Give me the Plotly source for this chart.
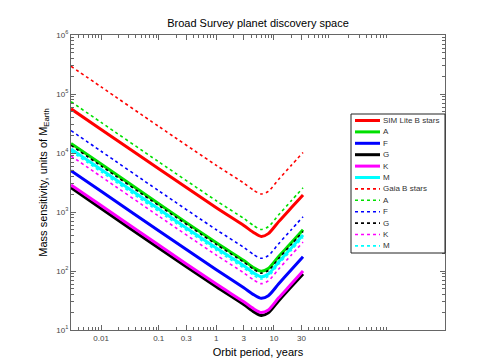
import plotly.graph_objects as go

# orbit period, years
period = [0.003, 0.01, 0.1, 1, 3, 4.5, 6, 8, 12, 20, 32]

# mass sensitivity, Earth masses
sim_b = [56000, 25000, 5400, 1180, 590, 445, 385, 430, 680, 1180, 1950]
sim_a = [14500, 6500, 1380, 300, 150, 113, 99, 110, 174, 300, 500]
sim_f = [5000, 2240, 480, 105, 52, 39.5, 34.5, 38, 60, 105, 174]
sim_g = [2570, 1150, 245, 54, 27, 20.3, 17.6, 19.5, 31, 54, 89]
sim_k = [2880, 1290, 275, 60, 30, 22.7, 19.8, 21.9, 34.7, 60, 100]
sim_m = [11700, 5250, 1120, 245, 123, 92, 80, 89, 141, 245, 407]

gaia_b = [295000, 132000, 28200, 6170, 3090, 2320, 2020, 2240, 3550, 6170, 10200]
gaia_a = [74000, 33000, 7080, 1550, 776, 582, 506, 562, 890, 1550, 2570]
gaia_f = [24000, 10700, 2290, 500, 251, 188, 164, 182, 288, 500, 832]
gaia_g = [13500, 6030, 1290, 282, 141, 106, 92, 102, 162, 282, 468]
gaia_k = [8900, 3980, 851, 186, 93, 70, 61, 68, 107, 186, 309]
gaia_m = [10700, 4790, 1020, 224, 112, 84, 73, 81, 129, 224, 372]

names = ["SIM Lite B stars", "A", "F", "G", "K", "M",
         "Gaia B stars", "A", "F", "G", "K", "M"]
series = [sim_b, sim_a, sim_f, sim_g, sim_k, sim_m,
          gaia_b, gaia_a, gaia_f, gaia_g, gaia_k, gaia_m]
colors = ["#ff0000", "#00e000", "#0000ff", "#000000", "#ff00ff", "#00ffff"] * 2
dashes = ["solid"] * 6 + ["dot"] * 6
widths = [3] * 6 + [1.6] * 6

x_ticks = [0.01, 0.1, 0.3, 1, 3, 10, 30]
y_ticks = [10, 100, 1000, 10000, 100000, 1000000]
y_ticktext = ["10<sup>%d</sup>" % i for i in range(1, 7)]

fig = go.Figure()
for name, ys, c, d, w in zip(names, series, colors, dashes, widths):
    fig.add_trace(go.Scatter(x=period, y=ys, mode="lines", name=name,
                             line=dict(color=c, dash=d, width=w,
                                       shape="spline", smoothing=0.7),
                             showlegend=False))

# plot area in pixels: x 63..437, y 27..322
L, R, T, B = 63, 437, 27, 322
def px(x):
    return (x - L) / (R - L)
def py(y):
    return (B - y) / (B - T)

# legend box drawn by hand (plotly's own legend rows are too tall)
shapes = [dict(type="rect", xref="paper", yref="paper",
               x0=px(343), x1=px(437), y0=py(245), y1=py(106),
               line=dict(color="#222", width=1), fillcolor="white")]
annotations = []
for i, (name, c, d, w) in enumerate(zip(names, colors, dashes, widths)):
    yc = 112.5 + i * 11.4
    shapes.append(dict(type="line", xref="paper", yref="paper",
                       x0=px(347), x1=px(372), y0=py(yc), y1=py(yc),
                       line=dict(color=c, dash=d, width=w)))
    annotations.append(dict(xref="paper", yref="paper", x=px(373), y=py(yc),
                            text=name, showarrow=False, xanchor="left",
                            yanchor="middle",
                            font=dict(size=8, color="#333")))

minor_x = [m * 10 ** e for e in range(-3, 3) for m in range(2, 10)]
minor_y = [m * 10 ** e for e in range(1, 6) for m in range(2, 10)]

axis_common = dict(showgrid=False, zeroline=False, showline=True,
                   linecolor="#666", linewidth=1, mirror="ticks",
                   ticks="inside", ticklen=5, tickcolor="#666",
                   tickfont=dict(family="Arial, Liberation Sans", size=8,
                                 color="#444"))

fig.update_layout(
    width=485, height=363,
    margin=dict(l=L, r=485 - R, t=T, b=363 - B),
    paper_bgcolor="white", plot_bgcolor="white",
    font=dict(family="Arial, Liberation Sans"),
    title=dict(text="Broad Survey planet discovery space",
               x=0.5, xref="paper", y=1 - 15 / 363, yanchor="middle",
               font=dict(size=11, color="black")),
    xaxis=dict(type="log", range=[-2.523, 3.97],
               tickvals=x_ticks, ticktext=[str(v) for v in x_ticks],
               minor=dict(tickvals=minor_x, ticks="inside", ticklen=3,
                          tickcolor="#666"),
               title=dict(text="Orbit period, years", standoff=6,
                          font=dict(size=11, color="black")),
               **axis_common),
    yaxis=dict(type="log", range=[1, 6],
               tickvals=y_ticks, ticktext=y_ticktext,
               minor=dict(tickvals=minor_y, ticks="inside", ticklen=3,
                          tickcolor="#666"),
               title=dict(text="Mass sensitivity, units of M<sub>Earth</sub>",
                          standoff=6, font=dict(size=11, color="black")),
               **axis_common),
    shapes=shapes,
    annotations=annotations,
)

fig.write_html("out.html")
